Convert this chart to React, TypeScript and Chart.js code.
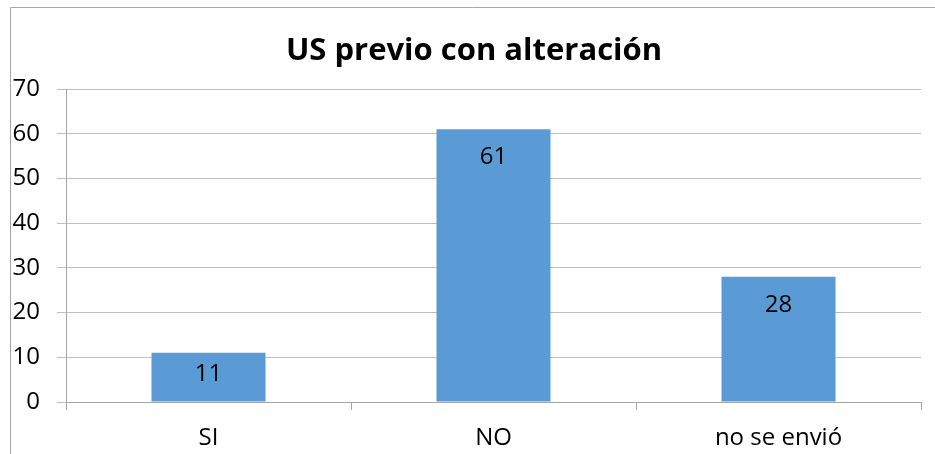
import React, { useEffect, useRef } from "react";
import { Chart, registerables } from "chart.js";

Chart.register(...registerables);

const categories = ["SI", "NO", "no se envió"];
const values = [11, 61, 28];
const yMin = 0;
const yMax = 70;
const yStep = 10;
const title = "US previo con alteración";

const FONT = "'Open Sans', 'DejaVu Sans', sans-serif";

const framePlugin = {
  id: "frame",
  beforeDraw(chart: any) {
    const ctx = chart.ctx;
    ctx.save();
    ctx.strokeStyle = "#a6a6a6";
    ctx.lineWidth = 1;
    ctx.beginPath();
    ctx.moveTo(10.5, chart.height);
    ctx.lineTo(10.5, 7.5);
    ctx.lineTo(chart.width, 7.5);
    ctx.stroke();
    ctx.restore();
  },
  afterDraw(chart: any) {
    const ctx = chart.ctx;
    ctx.save();
    ctx.font = `bold 31px ${FONT}`;
    ctx.fillStyle = "#000";
    ctx.textAlign = "center";
    ctx.textBaseline = "alphabetic";
    ctx.fillText(title, 474, 60);
    ctx.restore();
  },
};

const labelPlugin = {
  id: "barLabels",
  afterDatasetsDraw(chart: any) {
    const ctx = chart.ctx;
    const meta = chart.getDatasetMeta(0);
    ctx.save();
    ctx.font = `24px ${FONT}`;
    ctx.fillStyle = "#000";
    ctx.textAlign = "center";
    ctx.textBaseline = "middle";
    meta.data.forEach((bar: any, i: number) => {
      const y = Math.min(bar.y + 28, bar.base - 27);
      ctx.fillText(String(values[i]), bar.x, y);
    });
    ctx.restore();
  },
};

export default function App() {
  const ref = useRef<HTMLCanvasElement | null>(null);
  useEffect(() => {
    if (!ref.current) return;
    const chart = new Chart(ref.current, {
      type: "bar",
      data: {
        labels: categories,
        datasets: [
          {
            data: values,
            backgroundColor: "#5b9bd5",
            borderWidth: 0,
            categoryPercentage: 1,
            barPercentage: 0.4,
          },
        ],
      },
      options: {
        responsive: false,
        animation: false,
        layout: { padding: { left: 0, right: 14, top: 89, bottom: 0 } },
        plugins: {
          legend: { display: false },
          tooltip: { enabled: false },
          title: { display: false },
        },
        scales: {
          x: {
            offset: true,
            grid: {
              offset: true,
              drawOnChartArea: false,
              drawTicks: true,
              tickLength: 8,
              color: "#a6a6a6",
            },
            border: { display: true, color: "#a6a6a6" },
            ticks: {
              color: "#000",
              font: { family: FONT, size: 24 },
              padding: 14,
              maxRotation: 0,
            },
            afterFit(scale: any) {
              scale.height = 52;
            },
          },
          y: {
            min: yMin,
            max: yMax,
            grid: {
              color: "#bfbfbf",
              tickLength: 9,
              drawTicks: true,
            },
            border: { display: true, color: "#a6a6a6" },
            ticks: {
              stepSize: yStep,
              color: "#000",
              font: { family: FONT, size: 24 },
              padding: 17,
              callback: (v: any) => String(v),
            },
            afterFit(scale: any) {
              scale.width = 66;
            },
          },
        },
      },
      plugins: [framePlugin, labelPlugin],
    });
    return () => chart.destroy();
  }, []);
  return (
    <div style={{ position: "absolute", left: 0, top: 0, width: 935, height: 454, background: "#fff" }}>
      <canvas ref={ref} width={935} height={454} style={{ display: "block" }} />
    </div>
  );
}
